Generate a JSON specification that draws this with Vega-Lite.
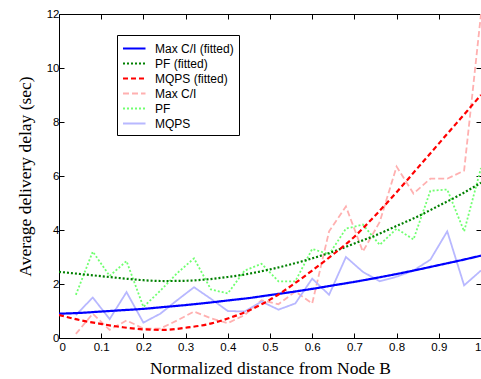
{
"$schema": "https://vega.github.io/schema/vega-lite/v6.json",
"width": 422, "height": 324,
"autosize": {"type": "none"},
"padding": {"left": 59, "top": 14, "right": 0, "bottom": 41},
"background": "white",
"config": {
  "view": {"stroke": "black", "strokeWidth": 1},
  "axis": {"domain": false, "grid": false, "tickColor": "black", "tickSize": -5, "tickWidth": 1,
    "labelFont": "Liberation Sans", "labelFontSize": 11.5, "labelColor": "black",
    "titleFont": "Liberation Serif", "titleFontSize": 17.5, "titleFontWeight": "normal", "titleColor": "black"}
},
"datasets": {
  "raw": [
    {"s":"Max C/I","x":0.04,"y":0.15},{"s":"Max C/I","x":0.08,"y":0.9},{"s":"Max C/I","x":0.12,"y":0.3},{"s":"Max C/I","x":0.16,"y":0.65},{"s":"Max C/I","x":0.2,"y":0.35},{"s":"Max C/I","x":0.24,"y":0.35},{"s":"Max C/I","x":0.28,"y":0.65},{"s":"Max C/I","x":0.32,"y":0.98},{"s":"Max C/I","x":0.36,"y":0.73},{"s":"Max C/I","x":0.4,"y":0.55},{"s":"Max C/I","x":0.44,"y":0.85},{"s":"Max C/I","x":0.48,"y":1.4},{"s":"Max C/I","x":0.52,"y":1.25},{"s":"Max C/I","x":0.56,"y":1.72},{"s":"Max C/I","x":0.6,"y":1.28},{"s":"Max C/I","x":0.64,"y":3.95},{"s":"Max C/I","x":0.68,"y":4.87},{"s":"Max C/I","x":0.72,"y":3.2},{"s":"Max C/I","x":0.76,"y":4.3},{"s":"Max C/I","x":0.8,"y":6.35},{"s":"Max C/I","x":0.84,"y":5.35},{"s":"Max C/I","x":0.88,"y":5.9},{"s":"Max C/I","x":0.92,"y":5.9},{"s":"Max C/I","x":0.96,"y":6.2},{"s":"Max C/I","x":1,"y":12},
    {"s":"PF","x":0.04,"y":1.6},{"s":"PF","x":0.08,"y":3.2},{"s":"PF","x":0.12,"y":2.3},{"s":"PF","x":0.16,"y":2.85},{"s":"PF","x":0.2,"y":1.15},{"s":"PF","x":0.24,"y":1.75},{"s":"PF","x":0.28,"y":2.4},{"s":"PF","x":0.32,"y":2.95},{"s":"PF","x":0.36,"y":1.8},{"s":"PF","x":0.4,"y":1.65},{"s":"PF","x":0.44,"y":2.5},{"s":"PF","x":0.48,"y":2.75},{"s":"PF","x":0.52,"y":2.1},{"s":"PF","x":0.56,"y":2.1},{"s":"PF","x":0.6,"y":3.3},{"s":"PF","x":0.64,"y":3.1},{"s":"PF","x":0.68,"y":4.05},{"s":"PF","x":0.72,"y":4.2},{"s":"PF","x":0.76,"y":3.45},{"s":"PF","x":0.8,"y":4.05},{"s":"PF","x":0.84,"y":3.65},{"s":"PF","x":0.88,"y":5.45},{"s":"PF","x":0.92,"y":5.5},{"s":"PF","x":0.96,"y":3.95},{"s":"PF","x":1,"y":6.3},
    {"s":"MQPS","x":0.04,"y":0.85},{"s":"MQPS","x":0.08,"y":1.5},{"s":"MQPS","x":0.12,"y":0.7},{"s":"MQPS","x":0.16,"y":1.7},{"s":"MQPS","x":0.2,"y":0.57},{"s":"MQPS","x":0.24,"y":0.9},{"s":"MQPS","x":0.28,"y":1.4},{"s":"MQPS","x":0.32,"y":1.88},{"s":"MQPS","x":0.36,"y":1.45},{"s":"MQPS","x":0.4,"y":1.0},{"s":"MQPS","x":0.44,"y":0.98},{"s":"MQPS","x":0.48,"y":1.35},{"s":"MQPS","x":0.52,"y":1.05},{"s":"MQPS","x":0.56,"y":1.28},{"s":"MQPS","x":0.6,"y":2.2},{"s":"MQPS","x":0.64,"y":1.6},{"s":"MQPS","x":0.68,"y":3.0},{"s":"MQPS","x":0.72,"y":2.45},{"s":"MQPS","x":0.76,"y":2.1},{"s":"MQPS","x":0.8,"y":2.27},{"s":"MQPS","x":0.84,"y":2.5},{"s":"MQPS","x":0.88,"y":2.9},{"s":"MQPS","x":0.92,"y":3.95},{"s":"MQPS","x":0.96,"y":1.95},{"s":"MQPS","x":1,"y":2.5}
  ],
  "fit": [
    {"s":"Max C/I (fitted)","x":0,"y":0.9},{"s":"Max C/I (fitted)","x":0.05,"y":0.93},{"s":"Max C/I (fitted)","x":0.1,"y":0.98},{"s":"Max C/I (fitted)","x":0.15,"y":1.03},{"s":"Max C/I (fitted)","x":0.2,"y":1.08},{"s":"Max C/I (fitted)","x":0.25,"y":1.15},{"s":"Max C/I (fitted)","x":0.3,"y":1.22},{"s":"Max C/I (fitted)","x":0.35,"y":1.3},{"s":"Max C/I (fitted)","x":0.4,"y":1.39},{"s":"Max C/I (fitted)","x":0.45,"y":1.48},{"s":"Max C/I (fitted)","x":0.5,"y":1.59},{"s":"Max C/I (fitted)","x":0.55,"y":1.7},{"s":"Max C/I (fitted)","x":0.6,"y":1.82},{"s":"Max C/I (fitted)","x":0.65,"y":1.95},{"s":"Max C/I (fitted)","x":0.7,"y":2.08},{"s":"Max C/I (fitted)","x":0.75,"y":2.22},{"s":"Max C/I (fitted)","x":0.8,"y":2.37},{"s":"Max C/I (fitted)","x":0.85,"y":2.53},{"s":"Max C/I (fitted)","x":0.9,"y":2.7},{"s":"Max C/I (fitted)","x":0.95,"y":2.87},{"s":"Max C/I (fitted)","x":1,"y":3.05},
    {"s":"PF (fitted)","x":0,"y":2.45},{"s":"PF (fitted)","x":0.05,"y":2.37},{"s":"PF (fitted)","x":0.1,"y":2.29},{"s":"PF (fitted)","x":0.15,"y":2.21},{"s":"PF (fitted)","x":0.2,"y":2.14},{"s":"PF (fitted)","x":0.25,"y":2.11},{"s":"PF (fitted)","x":0.3,"y":2.12},{"s":"PF (fitted)","x":0.35,"y":2.17},{"s":"PF (fitted)","x":0.4,"y":2.26},{"s":"PF (fitted)","x":0.45,"y":2.38},{"s":"PF (fitted)","x":0.5,"y":2.54},{"s":"PF (fitted)","x":0.55,"y":2.73},{"s":"PF (fitted)","x":0.6,"y":2.95},{"s":"PF (fitted)","x":0.65,"y":3.2},{"s":"PF (fitted)","x":0.7,"y":3.5},{"s":"PF (fitted)","x":0.75,"y":3.8},{"s":"PF (fitted)","x":0.8,"y":4.15},{"s":"PF (fitted)","x":0.85,"y":4.5},{"s":"PF (fitted)","x":0.9,"y":4.9},{"s":"PF (fitted)","x":0.95,"y":5.3},{"s":"PF (fitted)","x":1,"y":5.75},
    {"s":"MQPS (fitted)","x":0,"y":0.85},{"s":"MQPS (fitted)","x":0.05,"y":0.66},{"s":"MQPS (fitted)","x":0.1,"y":0.52},{"s":"MQPS (fitted)","x":0.15,"y":0.4},{"s":"MQPS (fitted)","x":0.2,"y":0.32},{"s":"MQPS (fitted)","x":0.25,"y":0.3},{"s":"MQPS (fitted)","x":0.3,"y":0.38},{"s":"MQPS (fitted)","x":0.35,"y":0.5},{"s":"MQPS (fitted)","x":0.4,"y":0.72},{"s":"MQPS (fitted)","x":0.45,"y":1.02},{"s":"MQPS (fitted)","x":0.5,"y":1.42},{"s":"MQPS (fitted)","x":0.55,"y":1.93},{"s":"MQPS (fitted)","x":0.6,"y":2.5},{"s":"MQPS (fitted)","x":0.65,"y":3.1},{"s":"MQPS (fitted)","x":0.7,"y":3.75},{"s":"MQPS (fitted)","x":0.75,"y":4.55},{"s":"MQPS (fitted)","x":0.8,"y":5.4},{"s":"MQPS (fitted)","x":0.85,"y":6.3},{"s":"MQPS (fitted)","x":0.9,"y":7.2},{"s":"MQPS (fitted)","x":0.95,"y":8.1},{"s":"MQPS (fitted)","x":1,"y":9.0}
  ]
},
"resolve": {"axis": {"x": "independent", "y": "independent"}},
"layer": [
  {
    "data": {"name": "raw"},
    "mark": {"type": "line", "strokeWidth": 1.8, "clip": true},
    "encoding": {
      "x": {"field": "x", "type": "quantitative", "scale": {"domain": [0, 1], "nice": false},
        "axis": {"orient": "bottom", "values": [0,0.1,0.2,0.3,0.4,0.5,0.6,0.7,0.8,0.9,1], "format": "~g", "labelPadding": 8, "title": "Normalized distance from Node B", "titlePadding": 7}},
      "y": {"field": "y", "type": "quantitative", "scale": {"domain": [0, 12], "nice": false},
        "axis": {"orient": "left", "values": [0,2,4,6,8,10,12], "labelPadding": 5, "title": "Average delivery delay (sec)", "titlePadding": 12}},
      "color": {"field": "s", "type": "nominal",
        "scale": {"domain": ["Max C/I (fitted)", "PF (fitted)", "MQPS (fitted)", "Max C/I", "PF", "MQPS"],
                  "range": ["#0000FF", "#008000", "#FF0000", "#FFB0B0", "#70FF70", "#B8B8FF"]},
        "legend": {"orient": "none", "legendX": 58, "legendY": 21, "title": null, "strokeColor": "black", "fillColor": "white",
          "padding": 5, "labelFont": "Liberation Sans", "labelFontSize": 12, "labelColor": "black", "symbolType": "M-1,0H2",
          "symbolSize": 225, "symbolStrokeWidth": 2, "rowPadding": 0, "labelOffset": 16, "cornerRadius": 0}},
      "strokeDash": {"field": "s", "type": "nominal",
        "scale": {"domain": ["Max C/I (fitted)", "PF (fitted)", "MQPS (fitted)", "Max C/I", "PF", "MQPS"],
                  "range": [[1,0],[2,2],[5,3],[6,3],[2,2],[1,0]]},
        "legend": {"orient": "none", "legendX": 58, "legendY": 21, "title": null, "strokeColor": "black", "fillColor": "white",
          "padding": 5, "labelFont": "Liberation Sans", "labelFontSize": 12, "labelColor": "black", "symbolType": "M-1,0H2",
          "symbolSize": 225, "symbolStrokeWidth": 2, "rowPadding": 0, "labelOffset": 16, "cornerRadius": 0}}
    }
  },
  {
    "data": {"name": "fit"},
    "mark": {"type": "line", "strokeWidth": 2.2, "clip": true, "interpolate": "monotone"},
    "encoding": {
      "x": {"field": "x", "type": "quantitative",
        "axis": {"orient": "top", "values": [0,0.1,0.2,0.3,0.4,0.5,0.6,0.7,0.8,0.9,1], "labels": false, "title": null}},
      "y": {"field": "y", "type": "quantitative",
        "axis": {"orient": "right", "values": [0,2,4,6,8,10,12], "labels": false, "title": null}},
      "color": {"field": "s", "type": "nominal"},
      "strokeDash": {"field": "s", "type": "nominal"}
    }
  }
]
}
